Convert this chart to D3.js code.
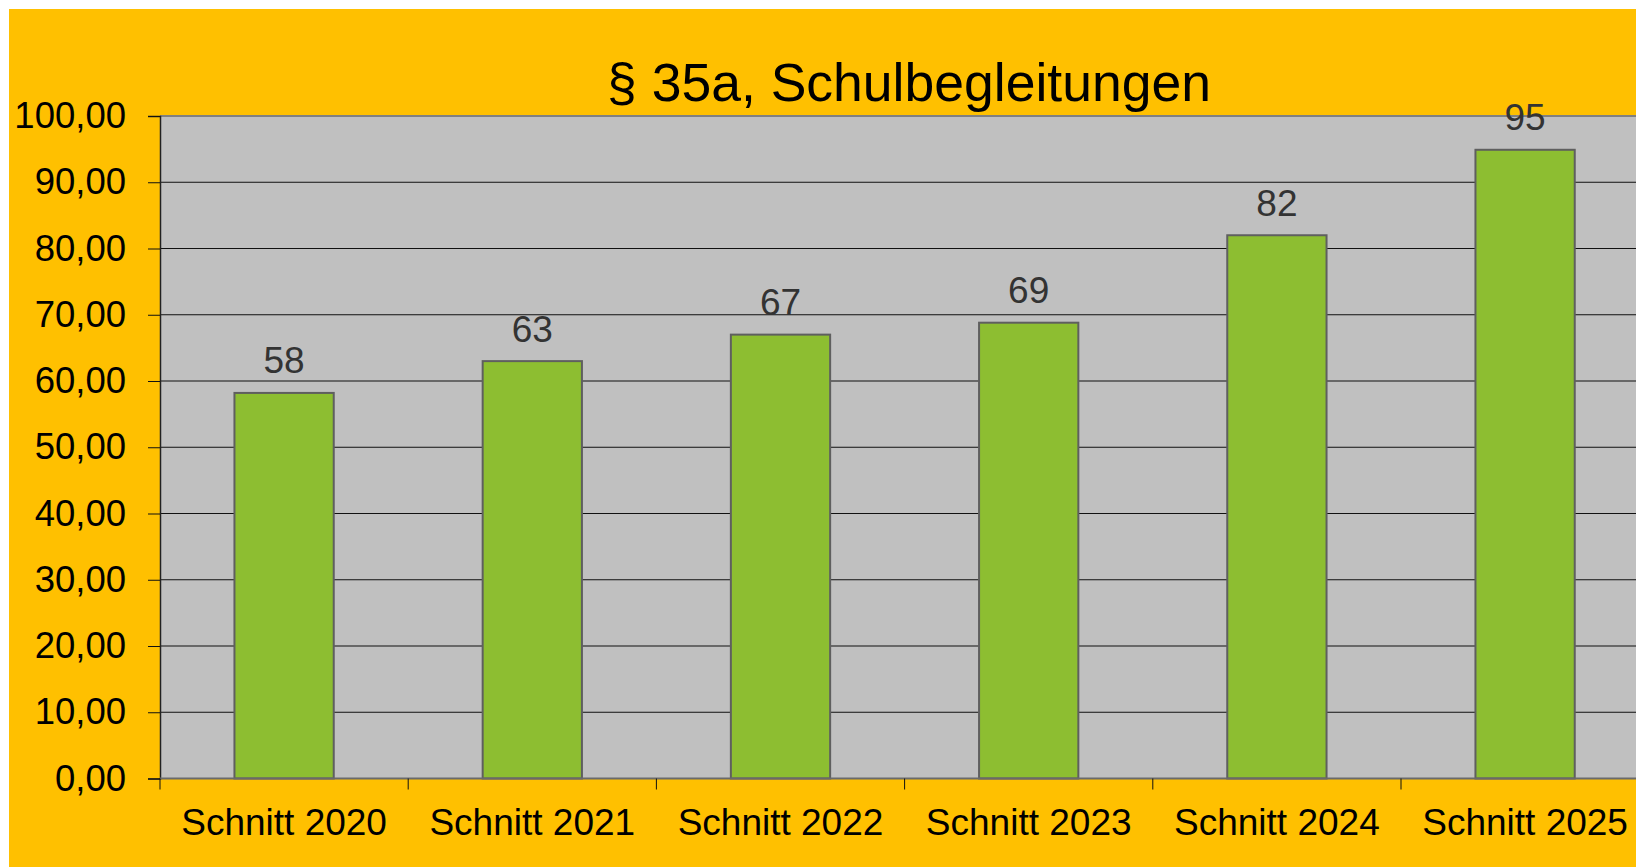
<!DOCTYPE html>
<html>
<head>
<meta charset="utf-8">
<script src="https://cdn.jsdelivr.net/npm/d3@7"></script>
<style>
  body { margin: 0; background: #fff; }
  svg { display: block; }
  text { font-family: "Liberation Sans", Arial, sans-serif; }
</style>
</head>
<body>
<script>
// chart data
var categories = ["Schnitt 2020", "Schnitt 2021", "Schnitt 2022", "Schnitt 2023", "Schnitt 2024", "Schnitt 2025"];
var values = [58.2, 63.0, 67.0, 68.8, 82.0, 94.9];
var yTicks = [0, 10, 20, 30, 40, 50, 60, 70, 80, 90, 100];
var title = "§ 35a, Schulbegleitungen";

var width = 1636, height = 867;
var plotLeft = 160, plotTop = 116, plotBottom = 778.5;
var step = 248.2;

var de = d3.formatLocale({ decimal: ",", thousands: ".", grouping: [3], currency: ["", " €"] });
var fmtTick = de.format(".2f");
var fmtLabel = de.format(".0f");

var svg = d3.select("body").append("svg")
    .attr("width", width)
    .attr("height", height);

// yellow chart area
svg.append("rect")
    .attr("x", 9).attr("y", 9)
    .attr("width", width - 9).attr("height", height - 9)
    .attr("fill", "#ffc000");

var x = d3.scaleBand()
    .domain(categories)
    .range([plotLeft, plotLeft + step * categories.length])
    .paddingInner(0.6)
    .paddingOuter(0.3);

var y = d3.scaleLinear()
    .domain([0, 100])
    .range([plotBottom, plotTop]);

// plot background
svg.append("rect")
    .attr("x", plotLeft).attr("y", plotTop)
    .attr("width", width - plotLeft).attr("height", plotBottom - plotTop)
    .attr("fill", "#c0c0c0");

// gridlines
svg.selectAll("line.grid")
    .data(yTicks.filter(function (d) { return d > 0 && d < 100; }))
    .enter().append("line")
    .attr("class", "grid")
    .attr("x1", plotLeft).attr("x2", width)
    .attr("y1", function (d) { return y(d); })
    .attr("y2", function (d) { return y(d); })
    .attr("stroke", "#111")
    .attr("stroke-width", 1);

// top border
svg.append("line")
    .attr("x1", plotLeft).attr("x2", width)
    .attr("y1", y(100)).attr("y2", y(100))
    .attr("stroke", "#808080").attr("stroke-width", 2);

// bars
svg.selectAll("rect.bar")
    .data(values)
    .enter().append("rect")
    .attr("class", "bar")
    .attr("x", function (d, i) { return x(categories[i]); })
    .attr("width", x.bandwidth())
    .attr("y", function (d) { return y(d); })
    .attr("height", function (d) { return y(0) - y(d); })
    .attr("fill", "#8dbe31")
    .attr("stroke", "#5f5f5f")
    .attr("stroke-width", 2);

// value labels
svg.selectAll("text.val")
    .data(values)
    .enter().append("text")
    .attr("class", "val")
    .attr("x", function (d, i) { return x(categories[i]) + x.bandwidth() / 2; })
    .attr("y", function (d) { return y(d) - 19.5; })
    .attr("text-anchor", "middle")
    .attr("font-size", 37)
    .attr("fill", "#333")
    .text(function (d) { return fmtLabel(d); });

// y axis
var yAxis = svg.append("g")
    .attr("transform", "translate(" + plotLeft + ",0)")
    .call(d3.axisLeft(y).tickValues(yTicks).tickFormat(fmtTick).tickSize(12).tickPadding(22));
yAxis.select(".domain").attr("stroke", "#222").attr("stroke-width", 1.5);
yAxis.selectAll(".tick line").attr("stroke", "#111");
yAxis.selectAll(".tick text")
    .attr("font-size", 36.5)
    .attr("fill", "#000")
    .attr("font-family", "Liberation Sans, Arial, sans-serif");

// x axis line
svg.append("line")
    .attr("x1", plotLeft).attr("x2", width)
    .attr("y1", plotBottom).attr("y2", plotBottom)
    .attr("stroke", "#6a6a6a").attr("stroke-width", 2);

// category ticks at band boundaries
var bounds = categories.map(function (d) { return x(d) - (x.step() - x.bandwidth()) / 2; });
svg.selectAll("line.xtick")
    .data(bounds)
    .enter().append("line")
    .attr("class", "xtick")
    .attr("x1", function (d) { return d; }).attr("x2", function (d) { return d; })
    .attr("y1", plotBottom).attr("y2", plotBottom + 11)
    .attr("stroke", "#111").attr("stroke-width", 1);

// category labels
svg.selectAll("text.cat")
    .data(categories)
    .enter().append("text")
    .attr("class", "cat")
    .attr("x", function (d) { return x(d) + x.bandwidth() / 2; })
    .attr("y", plotBottom + 56.5)
    .attr("text-anchor", "middle")
    .attr("font-size", 37)
    .attr("fill", "#000")
    .text(function (d) { return d; });

// title
svg.append("text")
    .attr("x", 909)
    .attr("y", 101)
    .attr("text-anchor", "middle")
    .attr("font-size", 53.5)
    .attr("fill", "#000")
    .text(title);
</script>
</body>
</html>
